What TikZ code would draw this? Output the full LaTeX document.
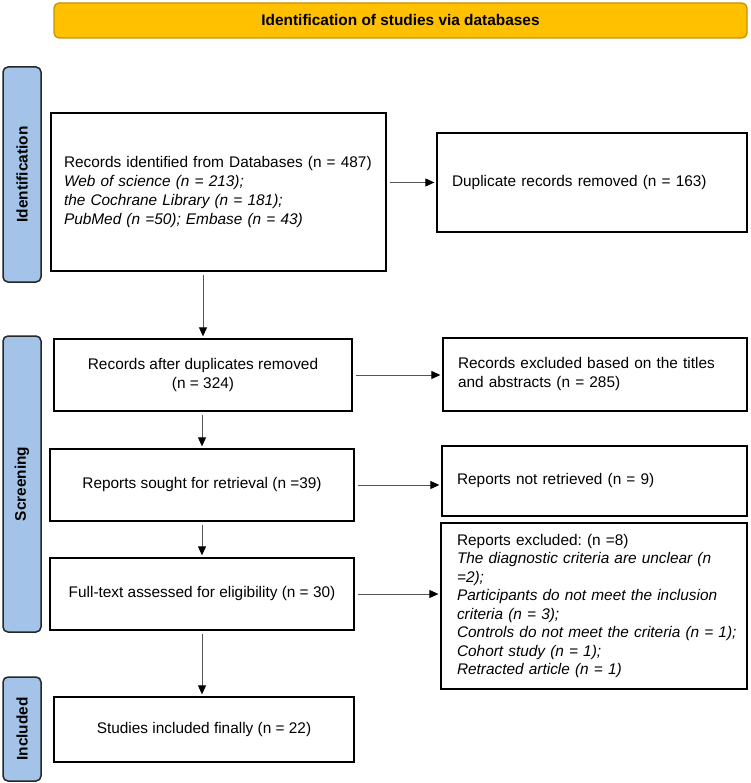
\documentclass[tikz,border=0pt]{standalone}
\usepackage{fontspec}
\setmainfont{Liberation Sans}
\usetikzlibrary{arrows.meta}
\definecolor{gold}{HTML}{FFC000}
\definecolor{goldline}{HTML}{C49300}
\definecolor{sideblue}{HTML}{A3C4E8}
\definecolor{linegray}{HTML}{555555}
\frenchspacing
\hbadness=10000 \hfuzz=100pt
\begin{document}
\begin{tikzpicture}[x=1pt,y=-1pt,
  every node/.style={font=\fontsize{15.4}{19}\selectfont, inner sep=0pt},
  box/.style={draw=black, line width=1.3pt, fill=white},
  side/.style={draw=black!85, line width=1.5pt, fill=sideblue, rounded corners=5pt, minimum width=38pt},
  sidetext/.style={rotate=90, font=\fontsize{15.4}{19}\selectfont\bfseries},
  arr/.style={draw=linegray, line width=0.9pt, -{Triangle[length=9pt,width=8pt,color=black,fill=black]}, shorten <=3pt, shorten >=2pt}]
\useasboundingbox (0,0) rectangle (750,783);
% top banner
\node[draw=goldline, line width=1.3pt, fill=gold, rounded corners=5pt, minimum width=693pt, minimum height=35pt, font=\fontsize{15.4}{19}\selectfont\bfseries] (top) at (400.5,20.5) {Identification of studies via databases};
% side bars
\node[side, minimum height=215pt] (sideI) at (22,174.5) {};
\node[sidetext] (sideItext) at (sideI.center) {Identification};
\node[side, minimum height=296pt] (sideS) at (22,484) {};
\node[sidetext] (sideStext) at (sideS.center) {Screening};
\node[side, minimum height=104pt] (sideN) at (22,729) {};
\node[sidetext] (sideNtext) at (sideN.center) {Included};
% boxes
\node[box, minimum width=335pt, minimum height=158pt, text width=309pt, align=left] (b1) at (218.5,192)
  {Records identified from Databases (n = 487)\\ \textit{Web of science (n = 213);}\\ \textit{the Cochrane Library (n = 181);}\\ \textit{PubMed (n =50); Embase (n = 43)}};
\node[box, minimum width=310pt, minimum height=99pt, text width=280pt, align=left] (dup) at (592,182.5)
  {Duplicate records removed (n = 163)};
\node[box, minimum width=298pt, minimum height=72pt, align=center] (b2) at (203,375)
  {Records after duplicates removed\\(n = 324)};
\node[box, minimum width=304pt, minimum height=73pt, text width=274pt, align=left] (rex) at (595,374.5)
  {Records excluded based on the titles\\and abstracts (n = 285)};
\node[box, minimum width=304pt, minimum height=72pt, align=center] (b3) at (202,485)
  {Reports sought for retrieval (n =39)};
\node[box, minimum width=305pt, minimum height=70pt, text width=275pt, align=left] (nr) at (594.5,481)
  {Reports not retrieved (n = 9)};
\node[box, minimum width=304pt, minimum height=72pt, align=center] (b4) at (202,594)
  {Full-text assessed for eligibility (n = 30)};
\node[box, minimum width=306pt, minimum height=166pt, text width=274pt, align=left, font=\fontsize{15.4}{18.5}\selectfont] (rpx) at (594,606)
  {Reports excluded: (n =8)\\ \textit{The diagnostic criteria are unclear (n}\\ \textit{=2);}\\ \textit{Participants do not meet the inclusion}\\ \textit{criteria (n = 3);}\\ \mbox{\textit{Controls do not meet the criteria (n = 1);}}\\ \textit{Cohort study (n = 1);}\\ \textit{Retracted article (n = 1)}};
\node[box, minimum width=300pt, minimum height=65pt, align=center] (b5) at (204,729.5)
  {Studies included finally (n = 22)};
% arrows
\draw[arr] (b1.east |- dup.west) -- (dup.west);
\draw[arr] (b2.north |- b1.south) -- (b2.north);
\draw[arr] (b2.east) -- (rex.west |- b2.east);
\draw[arr] (b2.south -| b3.north) -- (b3.north);
\draw[arr] (b3.east) -- (nr.west |- b3.east);
\draw[arr] (b3.south) -- (b4.north);
\draw[arr] (b4.east) -- (rpx.west |- b4.east);
\draw[arr] (b4.south) -- (b5.north -| b4.south);
\end{tikzpicture}
\end{document}
